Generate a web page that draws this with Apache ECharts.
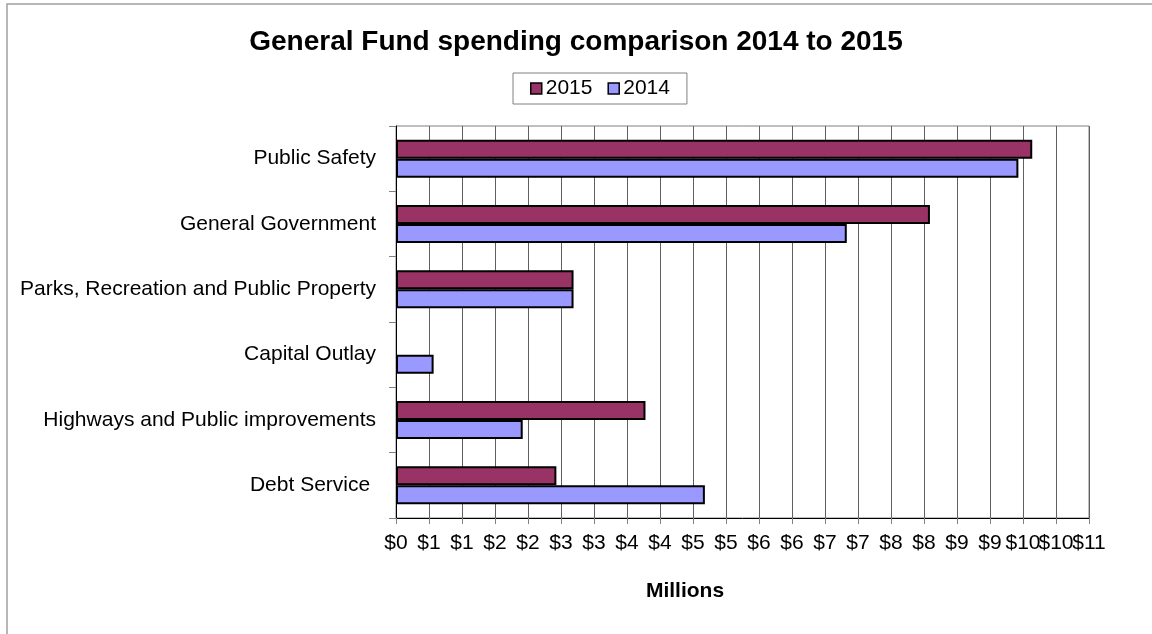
<!DOCTYPE html>
<html>
<head>
<meta charset="utf-8">
<script src="https://cdn.jsdelivr.net/npm/echarts@6/dist/echarts.min.js"></script>
<style>
  html, body { margin: 0; padding: 0; background: #fff; }
  #chart { width: 1152px; height: 634px; }
</style>
</head>
<body>
<div id="chart"></div>
<script>
// Spending categories, listed top to bottom
const categories = [
  'Public Safety',
  'General Government',
  'Parks, Recreation and Public Property',
  'Capital Outlay',
  'Highways and Public improvements',
  'Debt Service '
];
// Spending in millions of dollars
const spending2015 = [9.64, 8.09, 2.69, null, 3.78, 2.43];
const spending2014 = [9.43, 6.83, 2.69, 0.57, 1.92, 4.68];
const seriesNames = ['2015', '2014'];

// Value scale (millions), ticked every half million
const AXIS_MIN = 0;
const AXIS_MAX = 10.5;
const AXIS_STEP = 0.5;

const FONT = 'Liberation Sans, Arial, sans-serif';
const dollars = v => '$' + Math.round(v);

const labelStyle = { fontFamily: FONT, fontSize: 21, color: '#000', margin: 15 };

const chart = echarts.init(document.getElementById('chart'));
chart.setOption({
  backgroundColor: '#ffffff',
  animation: false,
  title: {
    text: 'General Fund spending comparison 2014 to 2015',
    left: 'center',
    top: 28,
    padding: 0,
    textStyle: { fontFamily: FONT, fontSize: 28, fontWeight: 'bold', color: '#000' }
  },
  legend: {
    data: seriesNames,
    left: 513,
    top: 73,
    padding: [5, 17, 5, 17],
    borderColor: '#808080',
    borderWidth: 1,
    itemGap: 15,
    itemWidth: 11,
    itemHeight: 11,
    icon: 'rect',
    itemStyle: { borderColor: '#000', borderWidth: 1.5 },
    textStyle: { fontFamily: FONT, fontSize: 21, color: '#000', padding: [0, 0, 0, -1] }
  },
  grid: {
    left: 396,
    right: 63,
    top: 126,
    bottom: 116,
    show: true,
    borderColor: '#808080',
    borderWidth: 1,
    containLabel: false
  },
  xAxis: [
    {
      // main value axis: line, grid and all labels but the last one
      type: 'value',
      min: AXIS_MIN,
      max: AXIS_MAX,
      interval: AXIS_STEP,
      axisLine: { show: true, lineStyle: { color: '#000', width: 1 } },
      axisTick: { show: true, length: 6, lineStyle: { color: '#808080' } },
      axisLabel: Object.assign({
        hideOverlap: false,
        showMinLabel: true,
        showMaxLabel: false,
        formatter: dollars
      }, labelStyle),
      splitLine: { show: true, lineStyle: { color: '#606060', width: 1 } }
    },
    {
      // overlay on the same scale that carries the end label
      type: 'value',
      position: 'bottom',
      min: AXIS_MIN,
      max: AXIS_MAX,
      interval: AXIS_STEP,
      axisLine: { show: false },
      axisTick: { show: true, length: 6, lineStyle: { color: '#808080' } },
      axisLabel: Object.assign({
        hideOverlap: false,
        showMinLabel: false,
        showMaxLabel: true,
        formatter: v => (v === AXIS_MAX ? dollars(v) : '')
      }, labelStyle),
      splitLine: { show: false }
    }
  ],
  yAxis: {
    type: 'category',
    data: categories,
    inverse: true,
    axisLine: { show: true, lineStyle: { color: '#000', width: 1 } },
    axisTick: { show: true, length: 7, lineStyle: { color: '#808080' } },
    axisLabel: { margin: 20, fontFamily: FONT, fontSize: 21, color: '#000' },
    splitLine: { show: false }
  },
  series: [
    {
      name: seriesNames[0],
      type: 'bar',
      xAxisIndex: 0,
      data: spending2015,
      barWidth: 19,
      barGap: '0%',
      itemStyle: { color: '#993366', borderColor: '#000', borderWidth: 2 }
    },
    {
      name: seriesNames[1],
      type: 'bar',
      xAxisIndex: 0,
      data: spending2014,
      barWidth: 19,
      barGap: '0%',
      itemStyle: { color: '#9999ff', borderColor: '#000', borderWidth: 2 }
    }
  ],
  graphic: [
    {
      type: 'text',
      x: 685,
      y: 591,
      style: {
        text: 'Millions',
        fontFamily: FONT,
        fontSize: 21,
        fontWeight: 'bold',
        fill: '#000',
        align: 'center',
        verticalAlign: 'middle'
      }
    },
    {
      type: 'polyline',
      shape: { points: [[7, 634], [7, 4], [1152, 4]] },
      style: { stroke: '#a0a0a0', lineWidth: 1.5, fill: null }
    }
  ]
});
</script>
</body>
</html>
